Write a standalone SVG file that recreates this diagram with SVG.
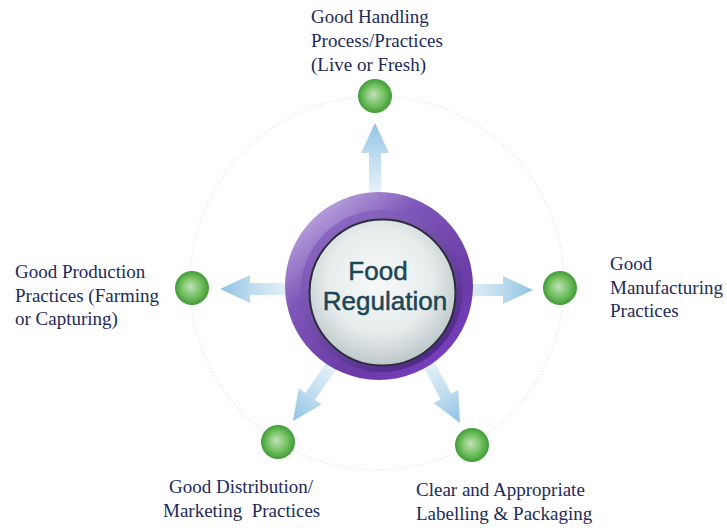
<svg xmlns="http://www.w3.org/2000/svg" width="727" height="528" viewBox="0 0 727 528">
<defs>
<radialGradient id="ball" cx="0.5" cy="0.5" r="0.5" fx="0.45" fy="0.45">
<stop offset="0" stop-color="#c2e0bb"/>
<stop offset="0.55" stop-color="#79c466"/>
<stop offset="1" stop-color="#3f9d35"/>
</radialGradient>
<linearGradient id="arr" x1="0" y1="0" x2="1" y2="0">
<stop offset="0" stop-color="#eef6fb"/>
<stop offset="0.55" stop-color="#c2def0"/>
<stop offset="1" stop-color="#8fc3e4"/>
</linearGradient>
<linearGradient id="outer" x1="0.15" y1="0.1" x2="0.85" y2="0.95">
<stop offset="0" stop-color="#b7a2dc"/>
<stop offset="0.3" stop-color="#7e55b8"/>
<stop offset="0.75" stop-color="#6a3aa6"/>
<stop offset="1" stop-color="#7a3fc4"/>
</linearGradient>
<linearGradient id="bevel" x1="0.2" y1="0.1" x2="0.8" y2="0.95">
<stop offset="0" stop-color="#8a67c2"/>
<stop offset="1" stop-color="#4f2787"/>
</linearGradient>
<radialGradient id="inner" cx="0.48" cy="0.42" r="0.6">
<stop offset="0" stop-color="#f7f9f9"/>
<stop offset="0.6" stop-color="#e6ecec"/>
<stop offset="1" stop-color="#b9c3c6"/>
</radialGradient>
<path id="arrow" d="M0,0 L-30,-14 L-30,-6 L-78,-6 L-78,6 L-30,6 L-30,14 Z"/>
</defs>
<style>
.lbl{font-family:"Liberation Serif","Times New Roman",serif;font-size:19px;fill:#1c2a5c;}
.ctr{font-family:"Liberation Sans",Arial,sans-serif;font-size:26px;fill:#1d4655;stroke:#1d4655;stroke-width:0.5;text-anchor:middle;}
.ball{fill:url(#ball);}
</style>
<rect width="727" height="528" fill="#ffffff"/>
<circle cx="377" cy="283" r="187" fill="none" stroke="#e4e6e8" stroke-width="1.2" stroke-dasharray="1.5 2"/>
<g id="connectors">
<use href="#arrow" fill="url(#arr)" transform="translate(375,123) rotate(-90)"/>
<use href="#arrow" fill="url(#arr)" transform="translate(533,290)"/>
<use href="#arrow" fill="url(#arr)" transform="translate(220,289) rotate(180)"/>
<use href="#arrow" fill="url(#arr)" transform="translate(293,421) rotate(124.9)"/>
<use href="#arrow" fill="url(#arr)" transform="translate(460,423) rotate(62)"/>
</g>
<g id="center">
<circle cx="379" cy="286" r="94" fill="url(#outer)"/>
<circle cx="381.5" cy="291" r="81" fill="url(#bevel)"/>
<circle cx="382.5" cy="292.5" r="73" fill="url(#inner)" stroke="#2b2e3a" stroke-width="2"/>
<text class="ctr" x="378" y="280">Food</text>
<text class="ctr" x="385" y="310">Regulation</text>
</g>
<g id="n-top">
<circle class="ball" cx="375" cy="96" r="17"/>
<text class="lbl" x="311" y="23">Good Handling</text>
<text class="lbl" x="311" y="47">Process/Practices</text>
<text class="lbl" x="311" y="71">(Live or Fresh)</text>
</g>
<g id="n-right">
<circle class="ball" cx="560" cy="288" r="17"/>
<text class="lbl" x="610" y="270">Good</text>
<text class="lbl" x="610" y="294">Manufacturing</text>
<text class="lbl" x="610" y="317">Practices</text>
</g>
<g id="n-left">
<circle class="ball" cx="192" cy="288" r="17"/>
<text class="lbl" x="15" y="278">Good Production</text>
<text class="lbl" x="15" y="302">Practices (Farming</text>
<text class="lbl" x="15" y="325">or Capturing)</text>
</g>
<g id="n-bl">
<circle class="ball" cx="278" cy="442" r="17"/>
<text class="lbl" x="169" y="493">Good Distribution/</text>
<text class="lbl" x="163" y="517" xml:space="preserve">Marketing  Practices</text>
</g>
<g id="n-br">
<circle class="ball" cx="472" cy="445" r="17"/>
<text class="lbl" x="416" y="496">Clear and Appropriate</text>
<text class="lbl" x="416" y="520">Labelling &amp; Packaging</text>
</g>
</svg>
